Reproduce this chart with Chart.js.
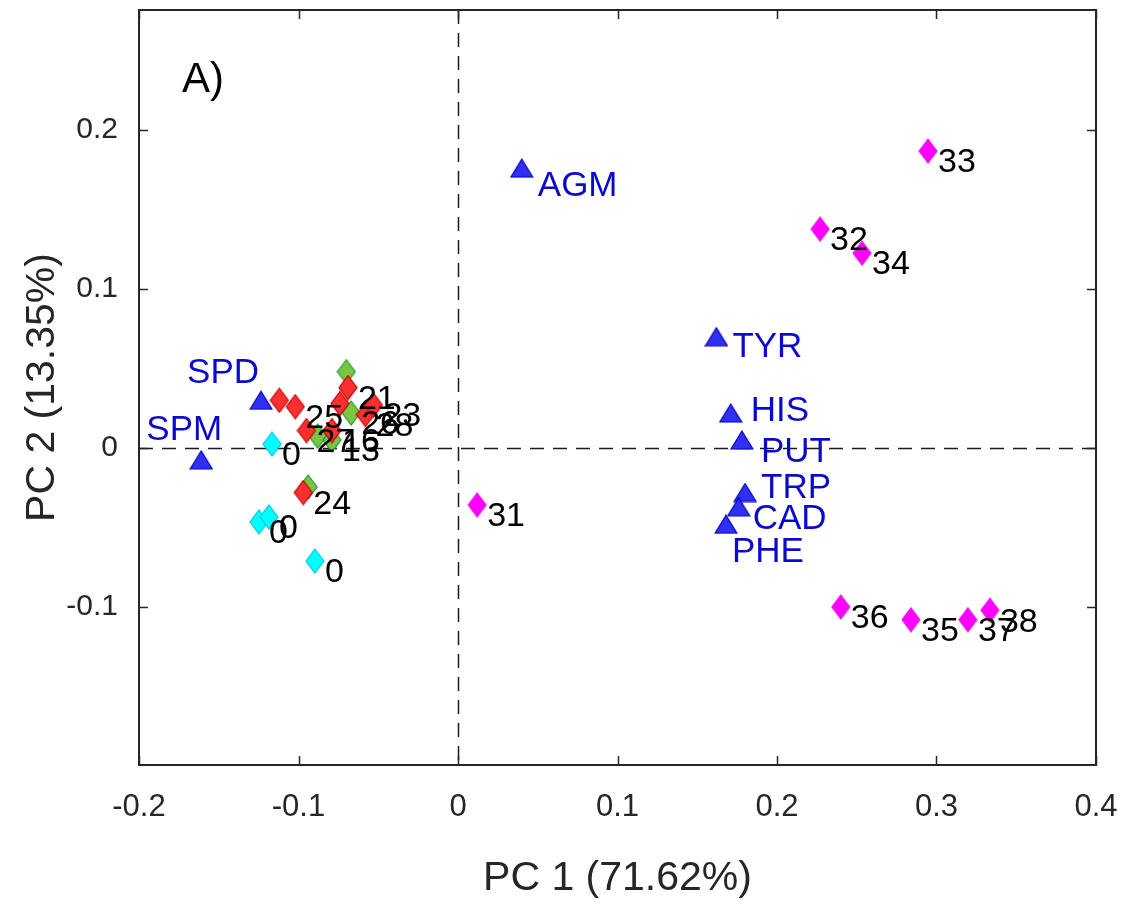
<!DOCTYPE html>
<html>
<head>
<meta charset="utf-8">
<title>PCA biplot</title>
<script src="https://cdn.jsdelivr.net/npm/chart.js@4.4.1/dist/chart.umd.min.js"></script>
<style>
  html, body { margin: 0; padding: 0; background: #ffffff; }
  #wrap { width: 1129px; height: 907px; }
</style>
</head>
<body>
<div id="wrap"><canvas id="pca-chart" width="1129" height="907"></canvas></div>
<script>
// Loadings (blue triangles)
const loadingNames = ['AGM', 'TYR', 'HIS', 'PUT', 'TRP', 'CAD', 'PHE', 'SPD', 'SPM'];
const loadingPC1 = [0.040, 0.162, 0.171, 0.178, 0.180, 0.176, 0.168, -0.1235, -0.161];
const loadingPC2 = [0.176, 0.070, 0.022, 0.005, -0.028, -0.037, -0.048, 0.030, -0.0075];

// Scores, grouped by colour
const cyanLabels = ['0', '0', '0', '0'];
const cyanPC1 = [-0.1166, -0.1248, -0.1185, -0.0897];
const cyanPC2 = [0.0025, -0.0465, -0.0434, -0.0711];

const redLabels = ['', '25', '21', '', '27', '16', '28', '23', '24'];
const redPC1 = [-0.112, -0.102, -0.069, -0.074, -0.095, -0.079, -0.058, -0.053, -0.097];
const redPC2 = [0.030, 0.026, 0.038, 0.028, 0.011, 0.011, 0.021, 0.027, -0.028];

const greenLabels = ['', '26', '', '13', ''];
const greenPC1 = [-0.070, -0.067, -0.088, -0.079, -0.094];
const greenPC2 = [0.048, 0.022, 0.0075, 0.005, -0.0245];

const magentaLabels = ['31', '32', '33', '34', '35', '36', '37', '38'];
const magentaPC1 = [0.012, 0.227, 0.2947, 0.2533, 0.284, 0.240, 0.3197, 0.3335];
const magentaPC2 = [-0.0358, 0.1377, 0.1868, 0.1226, -0.108, -0.100, -0.108, -0.102];

// Axis ticks
const xTicks = [-0.2, -0.1, 0, 0.1, 0.2, 0.3, 0.4];
const yTicks = [-0.1, 0, 0.1, 0.2];

const AXIS_COLOR = '#262626';
const FONT = '"Liberation Sans", Arial, Helvetica, sans-serif';

function toPoints(xs, ys) {
    return xs.map((x, i) => ({ x: x, y: ys[i] }));
}

// MATLAB-style markers drawn onto small canvases
function diamondMarker(fill, stroke) {
    const c = document.createElement('canvas');
    c.width = 20; c.height = 26;
    const g = c.getContext('2d');
    g.beginPath();
    g.moveTo(10, 1); g.lineTo(19, 13); g.lineTo(10, 25); g.lineTo(1, 13);
    g.closePath();
    g.fillStyle = fill; g.fill();
    g.lineWidth = 1.2; g.strokeStyle = stroke; g.stroke();
    return c;
}

function triangleMarker(fill, stroke) {
    const c = document.createElement('canvas');
    c.width = 24; c.height = 20;
    const g = c.getContext('2d');
    g.beginPath();
    g.moveTo(12, 1); g.lineTo(23, 19); g.lineTo(1, 19);
    g.closePath();
    g.fillStyle = fill; g.fill();
    g.lineWidth = 1.2; g.strokeStyle = stroke; g.stroke();
    return c;
}

// where the loading names sit relative to their triangle
const namePlacement = {
    AGM: [16, 18, 'left'], TYR: [16, 11, 'left'], HIS: [20, -2, 'left'],
    PUT: [19, 12, 'left'], TRP: [16, -4, 'left'], CAD: [14, 13, 'left'],
    PHE: [6, 28, 'left'], SPD: [-2, -27, 'right'], SPM: [21, -30, 'right']
};

const framePlugin = {
    id: 'frame',
    beforeDatasetsDraw(chart) {
        const { ctx, chartArea: a, scales: { x, y } } = chart;
        ctx.save();
        ctx.strokeStyle = '#1a1a1a';
        ctx.lineWidth = 1.5;
        ctx.setLineDash([14, 9]);
        const x0 = Math.round(x.getPixelForValue(0)) + 0.5;
        const y0 = Math.round(y.getPixelForValue(0)) + 0.5;
        ctx.beginPath();
        ctx.moveTo(x0, a.top); ctx.lineTo(x0, a.bottom);
        ctx.moveTo(a.left, y0); ctx.lineTo(a.right, y0);
        ctx.stroke();
        ctx.restore();
    },
    afterDatasetsDraw(chart) {
        const { ctx, chartArea: a, scales: { x, y } } = chart;
        ctx.save();

        // point labels
        chart.data.datasets.forEach((ds, i) => {
            const meta = chart.getDatasetMeta(i);
            meta.data.forEach((pt, j) => {
                const text = ds.pointLabels[j];
                if (!text) return;
                let dx = 10, dy = 12, align = 'left';
                if (ds.isLoading) {
                    [dx, dy, align] = namePlacement[text] || [16, 12, 'left'];
                    ctx.font = '35px ' + FONT;
                    ctx.fillStyle = '#0a0acc';
                } else {
                    ctx.font = '34px ' + FONT;
                    ctx.fillStyle = '#000000';
                }
                ctx.textAlign = align;
                ctx.textBaseline = 'middle';
                ctx.fillText(text, pt.x + dx, pt.y + dy);
            });
        });

        // box and inward ticks
        ctx.strokeStyle = AXIS_COLOR;
        ctx.lineWidth = 2;
        ctx.strokeRect(a.left, a.top, a.right - a.left, a.bottom - a.top);
        ctx.lineWidth = 1.5;
        ctx.beginPath();
        xTicks.forEach(v => {
            const px = Math.round(x.getPixelForValue(v)) + 0.5;
            ctx.moveTo(px, a.bottom); ctx.lineTo(px, a.bottom - 9);
            ctx.moveTo(px, a.top); ctx.lineTo(px, a.top + 9);
        });
        yTicks.forEach(v => {
            const py = Math.round(y.getPixelForValue(v)) + 0.5;
            ctx.moveTo(a.left, py); ctx.lineTo(a.left + 9, py);
            ctx.moveTo(a.right, py); ctx.lineTo(a.right - 9, py);
        });
        ctx.stroke();

        // panel letter
        ctx.font = '42px ' + FONT;
        ctx.fillStyle = '#000000';
        ctx.textAlign = 'left';
        ctx.textBaseline = 'alphabetic';
        ctx.fillText('A)', 182, 92);
        ctx.restore();
    }
};

const ctx = document.getElementById('pca-chart').getContext('2d');
new Chart(ctx, {
    type: 'scatter',
    data: {
        datasets: [{
            label: 'Loadings',
            isLoading: true,
            pointLabels: loadingNames,
            data: toPoints(loadingPC1, loadingPC2),
            pointStyle: triangleMarker('#3030f5', '#0000b0')
        }, {
            label: 'Magenta',
            pointLabels: magentaLabels,
            data: toPoints(magentaPC1, magentaPC2),
            pointStyle: diamondMarker('#ff00ff', '#e81ce8')
        }, {
            label: 'Cyan',
            pointLabels: cyanLabels,
            data: toPoints(cyanPC1, cyanPC2),
            pointStyle: diamondMarker('#00ffff', '#00c8ee')
        }, {
            label: 'Red',
            pointLabels: redLabels,
            data: toPoints(redPC1, redPC2),
            pointStyle: diamondMarker('#f83030', '#c80000')
        }, {
            label: 'Green',
            pointLabels: greenLabels,
            data: toPoints(greenPC1, greenPC2),
            pointStyle: diamondMarker('#7cc444', '#1e9e30')
        }]
    },
    options: {
        responsive: false,
        animation: false,
        layout: { padding: { left: 0, right: 33, top: 10, bottom: 0 } },
        plugins: {
            legend: { display: false },
            tooltip: { enabled: false }
        },
        scales: {
            x: {
                type: 'linear',
                min: -0.2,
                max: 0.4,
                afterBuildTicks: (scale) => { scale.ticks = xTicks.map(v => ({ value: v })); },
                afterFit: (scale) => {
                    scale.height = 142;
                    scale.paddingLeft = 0;
                    scale.paddingRight = 0;
                },
                grid: { display: false, drawTicks: false },
                border: { display: false },
                ticks: {
                    padding: 24,
                    color: AXIS_COLOR,
                    font: { family: FONT, size: 31 },
                    callback: (v) => String(v)
                },
                title: {
                    display: true,
                    text: 'PC 1 (71.62%)',
                    color: AXIS_COLOR,
                    font: { family: FONT, size: 41 },
                    padding: { top: 0, bottom: 4 }
                }
            },
            y: {
                type: 'linear',
                min: -0.1994,
                max: 0.2755,
                afterBuildTicks: (scale) => { scale.ticks = yTicks.map(v => ({ value: v })); },
                afterFit: (scale) => {
                    scale.width = 139;
                    scale.paddingTop = 0;
                    scale.paddingBottom = 0;
                },
                grid: { display: false, drawTicks: false },
                border: { display: false },
                ticks: {
                    padding: 21,
                    color: AXIS_COLOR,
                    font: { family: FONT, size: 30 },
                    callback: (v) => String(v)
                },
                title: {
                    display: true,
                    text: 'PC 2 (13.35%)',
                    color: AXIS_COLOR,
                    font: { family: FONT, size: 41 },
                    padding: { top: 18, bottom: 0 }
                }
            }
        }
    },
    plugins: [framePlugin]
});
</script>
</body>
</html>
